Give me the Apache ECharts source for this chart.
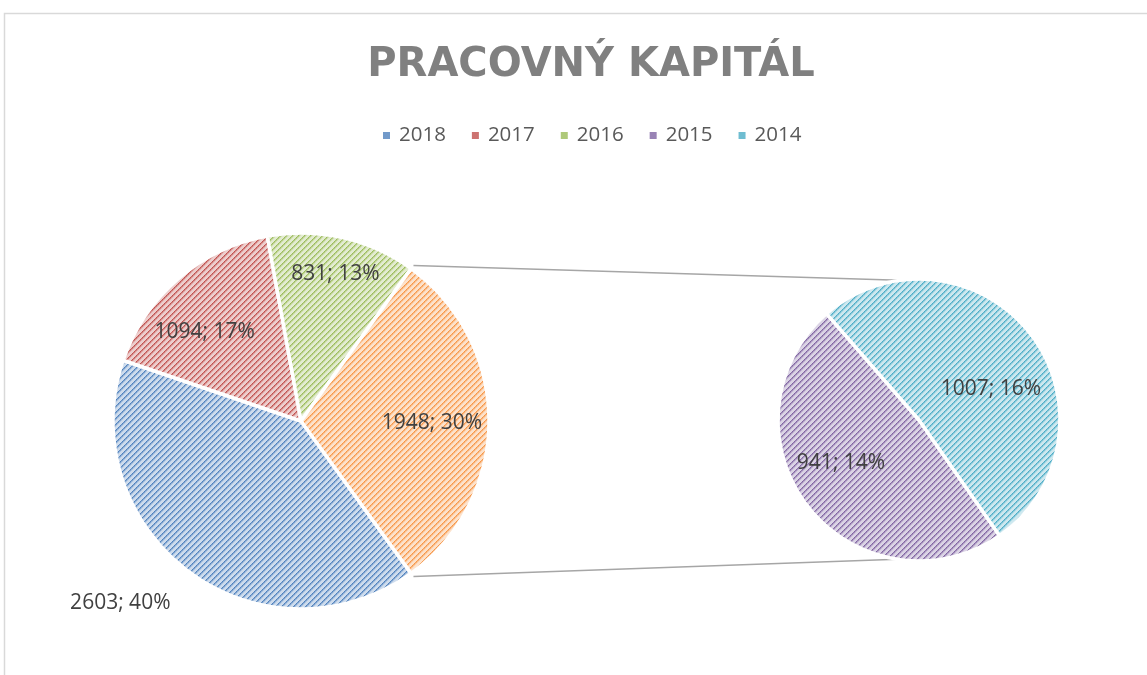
<!DOCTYPE html>
<html>
<head>
<meta charset="utf-8">
<script src="https://cdn.jsdelivr.net/npm/echarts@6/dist/echarts.min.js"></script>
<style>
  html, body { margin: 0; padding: 0; background: #fff; }
  #chart { width: 1147px; height: 675px; }
</style>
</head>
<body>
<div id="chart"></div>
<script>
  // data
  var years = ['2018', '2017', '2016', '2015', '2014'];
  var values = [2603, 1094, 831, 941, 1007];
  var pctLabels = ['40%', '17%', '13%', '14%', '16%'];
  var otherName = 'Ostatné';
  var otherPct = '30%';
  var mainCount = 3; // first three years stay in the big pie, the rest go to the small one

  // office 2007 palette
  var colors = ['#4F81BD', '#C0504D', '#9BBB59', '#8064A2', '#4BACC6'];
  var otherColor = '#F79646';

  // label nudges (excel best-fit placement)
  var mainNudge = [[-123, 104], [-33, -15], [13, -52], [34, 2]];
  var subNudge = [[-20, -2], [14, 14]];

  // layout
  var mainC = [301, 421], mainR = 188;
  var subC = [919, 420], subR = 141;

  function hexToRgb(h) {
    return [parseInt(h.substr(1, 2), 16), parseInt(h.substr(3, 2), 16), parseInt(h.substr(5, 2), 16)];
  }
  function mix(rgb, t) { // t = share of white
    return 'rgb(' + rgb.map(function (v) { return Math.round(v + (255 - v) * t); }).join(',') + ')';
  }
  // diagonal "/" stripe hatch like excel's pattern fill
  function hatch(hex) {
    var rgb = hexToRgb(hex);
    var n = 6;
    var c = document.createElement('canvas');
    c.width = n; c.height = n;
    var ctx = c.getContext('2d');
    ctx.fillStyle = mix(rgb, 0.72);
    ctx.fillRect(0, 0, n, n);
    for (var i = 0; i < n; i++) {
      var y = n - 1 - i;
      ctx.fillStyle = i % 2 ? mix(rgb, 0.1) : mix(rgb, 0.0);
      ctx.fillRect(i, y, 1, 1);
      ctx.fillStyle = i % 2 ? mix(rgb, 0.25) : mix(rgb, 0.35);
      ctx.fillRect((i + 1) % n, y, 1, 1);
      ctx.fillStyle = mix(rgb, 0.55);
      ctx.fillRect((i + 2) % n, y, 1, 1);
    }
    return { image: c, repeat: 'repeat' };
  }

  var total = values.reduce(function (a, b) { return a + b; }, 0);
  var otherValue = 0;
  for (var k = mainCount; k < values.length; k++) otherValue += values[k];

  var mainData = [];
  for (var i = 0; i < mainCount; i++) {
    mainData.push({
      name: years[i], value: values[i], pct: pctLabels[i],
      itemStyle: { color: hatch(colors[i]) },
      label: { offset: mainNudge[i] }
    });
  }
  mainData.push({
    name: otherName, value: otherValue, pct: otherPct,
    itemStyle: { color: hatch(otherColor) },
    label: { offset: mainNudge[mainCount] }
  });

  var subData = [];
  for (var j = mainCount; j < values.length; j++) {
    subData.push({
      name: years[j], value: values[j], pct: pctLabels[j],
      itemStyle: { color: hatch(colors[j]) },
      label: { offset: subNudge[j - mainCount] }
    });
  }

  var legendData = years.map(function (y, idx) {
    return { name: y, itemStyle: { color: mix(hexToRgb(colors[idx]), 0.2) } };
  });

  var otherAngle = otherValue / total * 360;
  var mainStart = -otherAngle / 2;

  function pt(c, r, deg) {
    var a = deg * Math.PI / 180;
    return [c[0] + r * Math.cos(a), c[1] - r * Math.sin(a)];
  }
  var p1 = pt(mainC, mainR + 4, otherAngle / 2);
  var p2 = pt(mainC, mainR + 4, -otherAngle / 2);
  var q1 = pt(subC, subR, 98);
  var q2 = pt(subC, subR, -99);

  var labelStyle = {
    show: true,
    position: 'inside',
    color: '#404040',
    fontFamily: 'Open Sans',
    fontSize: 21,
    formatter: function (p) { return p.value + '; ' + p.data.pct; }
  };

  var option = {
    animation: false,
    title: {
      text: 'PRACOVNÝ KAPITÁL',
      left: 586,
      textAlign: 'center',
      top: 41,
      textStyle: {
        fontFamily: 'DejaVu Sans',
        fontWeight: 'bold',
        fontSize: 40,
        color: '#808080'
      }
    },
    legend: {
      data: legendData,
      top: 120,
      left: 376,
      itemWidth: 9,
      itemHeight: 9,
      itemGap: 24,
      icon: 'rect',
      selectedMode: false,
      textStyle: { fontFamily: 'Open Sans', fontSize: 20.5, color: '#595959', padding: [0, 0, 0, 3] }
    },
    graphic: [
      {
        type: 'rect',
        shape: { x: 4.5, y: 13.5, width: 1200, height: 700 },
        style: { fill: 'none', stroke: '#d9d9d9', lineWidth: 1.5 },
        silent: true
      },
      {
        type: 'line',
        shape: { x1: p1[0], y1: p1[1], x2: q1[0], y2: q1[1] },
        style: { stroke: '#a6a6a6', lineWidth: 1.5 },
        silent: true
      },
      {
        type: 'line',
        shape: { x1: p2[0], y1: p2[1], x2: q2[0], y2: q2[1] },
        style: { stroke: '#a6a6a6', lineWidth: 1.5 },
        silent: true
      }
    ],
    series: [
      {
        name: 'main',
        type: 'pie',
        center: mainC,
        radius: mainR,
        startAngle: mainStart,
        clockwise: true,
        avoidLabelOverlap: false,
        emphasis: { disabled: true },
        itemStyle: { borderColor: '#fff', borderWidth: 3.5 },
        label: labelStyle,
        labelLine: { show: false },
        data: mainData
      },
      {
        name: 'sub',
        type: 'pie',
        center: subC,
        radius: subR,
        startAngle: 131,
        clockwise: false,
        avoidLabelOverlap: false,
        emphasis: { disabled: true },
        itemStyle: { borderColor: '#fff', borderWidth: 3.5 },
        label: labelStyle,
        labelLine: { show: false },
        data: subData
      }
    ]
  };

  var chart = echarts.init(document.getElementById('chart'));
  chart.setOption(option);
</script>
</body>
</html>
